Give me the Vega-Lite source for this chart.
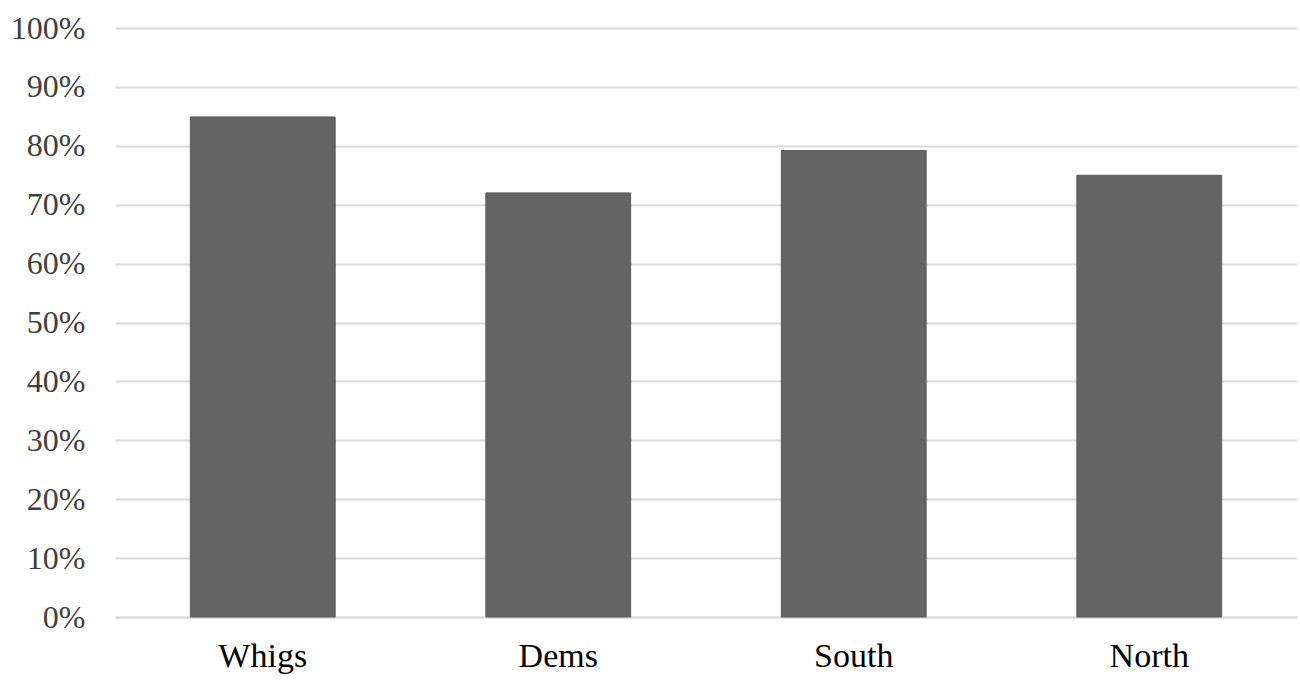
{
  "$schema": "https://vega.github.io/schema/vega-lite/v6.json",
  "width": 1182,
  "height": 589,
  "autosize": {"type": "none"},
  "padding": {"left": 115, "top": 28, "right": 3, "bottom": 65},
  "background": "white",
  "config": {"view": {"stroke": null}},
  "data": {"values": [
    {"group": "Whigs", "share": 0.849},
    {"group": "Dems", "share": 0.72},
    {"group": "South", "share": 0.792},
    {"group": "North", "share": 0.75}
  ]},
  "mark": {"type": "bar", "color": "#646464", "stroke": "#5a5a5a", "strokeWidth": 1},
  "encoding": {
    "x": {
      "field": "group", "type": "nominal", "sort": null,
      "scale": {"paddingInner": 0.51, "paddingOuter": 0.255},
      "axis": {"title": null, "labelAngle": 0, "labelFont": "Liberation Serif", "labelFontSize": 34, "labelColor": "#000000", "ticks": false, "domain": true, "domainColor": "#d9d9d9", "domainWidth": 2, "labelPadding": 22, "labelOverlap": false}
    },
    "y": {
      "field": "share", "type": "quantitative",
      "scale": {"domain": [0, 1], "nice": false},
      "axis": {"title": null, "format": ".0%", "values": [0,0.1,0.2,0.3,0.4,0.5,0.6,0.7,0.8,0.9,1], "labelFont": "Liberation Serif", "labelFontSize": 32, "labelColor": "#404040", "ticks": false, "domain": false, "gridColor": "#d9d9d9", "gridWidth": 2, "labelPadding": 30, "labelOverlap": false, "labelFlush": false}
    }
  }
}
